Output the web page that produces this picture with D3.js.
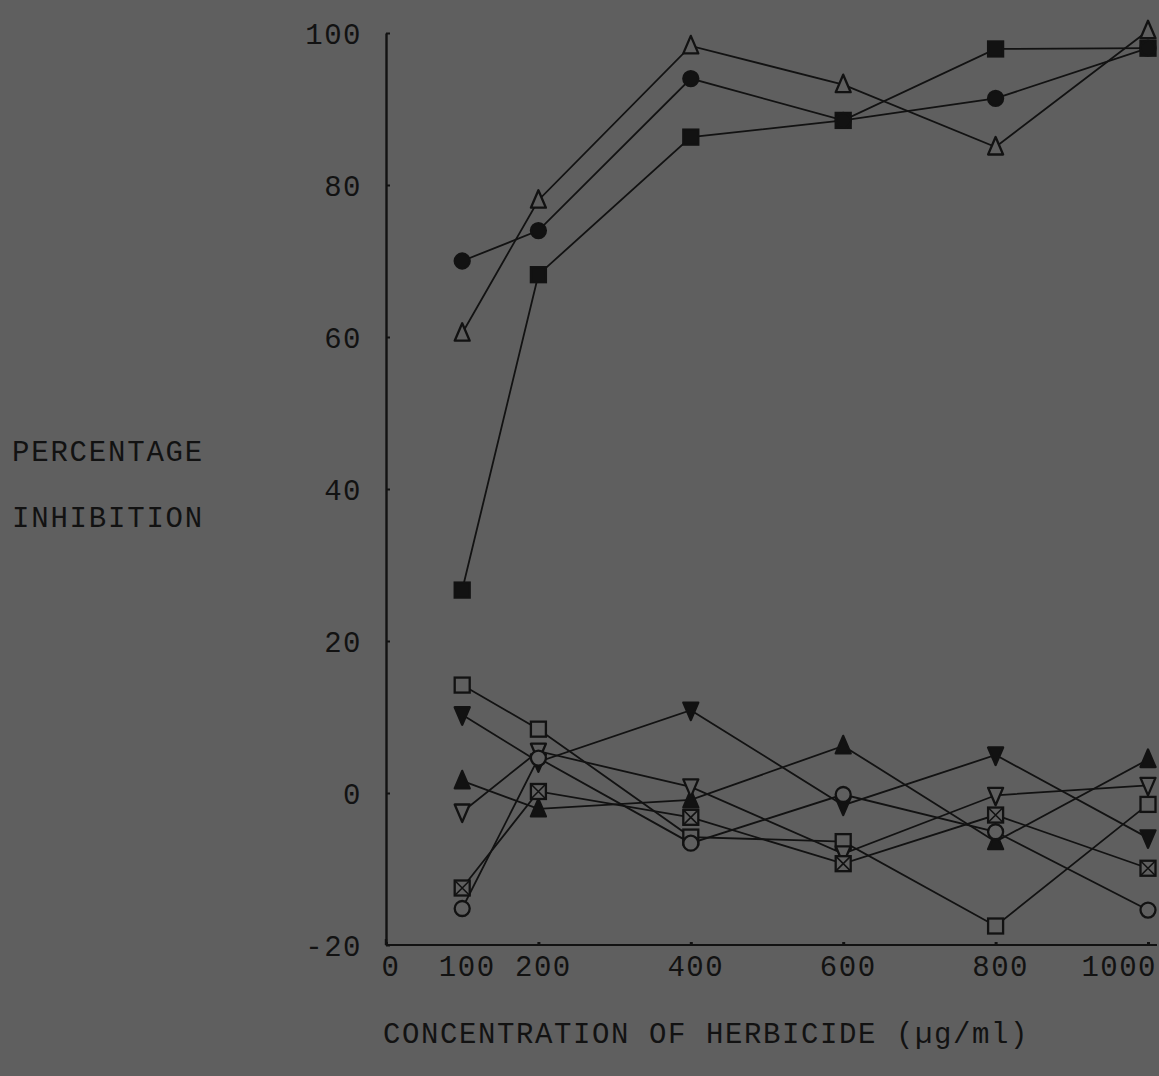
<!DOCTYPE html>
<html>
<head>
<meta charset="utf-8">
<script src="https://cdn.jsdelivr.net/npm/d3@7"></script>
<style>
  html, body { margin: 0; padding: 0; background: #5f5f5f; }
  svg { display: block; }
  text { font-family: "Liberation Mono", "DejaVu Sans Mono", monospace; fill: #121212; }
</style>
</head>
<body>
<script>
// ---- data ----
const concentrations = [100, 200, 400, 600, 800, 1000];

// upper group
const filledCircle   = [70, 74, 94, 88.5, 91.4, 98];
const openTriangle   = [60.5, 78, 98.3, 93.2, 85, 100.3];
const filledSquare   = [26.7, 68.2, 86.3, 88.5, 97.9, 98];

// lower group
const openSquare        = [14.2, 8.4, -5.8, -6.4, -17.5, -1.5];
const filledInvTriangle = [10.3, 4.1, 10.9, -1.6, 5.0, -5.9];
const filledTriangle    = [1.6, -2.1, -0.9, 6.2, -6.4, 4.4];
const openInvTriangle   = [-2.5, 5.5, 0.8, -8.0, -0.3, 1.0];
const crossedSquare     = [-12.5, 0.2, -3.2, -9.3, -2.9, -9.9];
const openCircle        = [-15.2, 4.6, -6.6, -0.2, -5.1, -15.4];

const yTicks = [-20, 0, 20, 40, 60, 80, 100];
const xTickValues = [0, 200, 400, 600, 800, 1000];
const xLabels = [0, 100, 200, 400, 600, 800, 1000];

const seriesList = [
  { name: "openSquare", values: openSquare, shape: "square", fill: "open" },
  { name: "filledInvTriangle", values: filledInvTriangle, shape: "invtri", fill: "filled" },
  { name: "filledTriangle", values: filledTriangle, shape: "tri", fill: "filled" },
  { name: "openInvTriangle", values: openInvTriangle, shape: "invtri", fill: "open" },
  { name: "crossedSquare", values: crossedSquare, shape: "xsquare", fill: "open" },
  { name: "openCircle", values: openCircle, shape: "circle", fill: "open" },
  { name: "filledSquare", values: filledSquare, shape: "square", fill: "filled" },
  { name: "filledCircle", values: filledCircle, shape: "circle", fill: "filled" },
  { name: "openTriangle", values: openTriangle, shape: "tri", fill: "open" }
];

// ---- layout ----
const W = 1159, H = 1076;
const BG = "#5f5f5f", INK = "#121212";

const svg = d3.select("body").append("svg").attr("width", W).attr("height", H);
svg.append("rect").attr("width", W).attr("height", H).attr("fill", BG);

const x = d3.scaleLinear().domain([0, 1000]).range([386, 1148]);
const y = d3.scaleLinear().domain([-20, 100]).range([945, 33]);

// y axis
const yAxis = svg.append("g").attr("transform", `translate(${x(0)},0)`)
  .call(d3.axisLeft(y).tickValues(yTicks).tickSizeInner(-4).tickSizeOuter(0).tickPadding(24)
        .tickFormat(d => d < 0 ? "-" + Math.abs(d) : String(d)));
yAxis.select(".domain").attr("stroke", INK).attr("stroke-width", 2.4);
yAxis.selectAll(".tick line").attr("stroke", INK).attr("stroke-width", 2);
yAxis.selectAll(".tick text").style("font-size", "29px").style("letter-spacing", "1.5px")
  .attr("fill", INK).attr("dy", "0.36em");

// x axis line
svg.append("line").attr("x1", x(0)).attr("x2", 1157).attr("y1", y(-20)).attr("y2", y(-20))
  .attr("stroke", INK).attr("stroke-width", 2.2);
svg.append("line").attr("x1", x(0)).attr("x2", x(0)).attr("y1", y(-20) - 6).attr("y2", y(-20))
  .attr("stroke", INK).attr("stroke-width", 2.4);

const xAxis = svg.append("g").attr("transform", `translate(0,${y(-20)})`)
  .call(d3.axisBottom(x).tickValues(xTickValues).tickSizeInner(-3).tickSizeOuter(0).tickPadding(13).tickFormat(() => ""));
xAxis.select(".domain").remove();
xAxis.selectAll(".tick line").attr("stroke", INK).attr("stroke-width", 3);

svg.append("g").selectAll("text").data(xLabels).join("text")
  .attr("x", d => d === 1000 ? x(d) + 9 : x(d) + 5)
  .attr("y", y(-20) + 31)
  .attr("text-anchor", d => d === 1000 ? "end" : "middle")
  .style("font-size", "29px").style("letter-spacing", "1.5px")
  .text(d => d);

// axis titles
svg.append("text").attr("x", 12).attr("y", 461).style("font-size", "29px").style("letter-spacing", "1.8px").text("PERCENTAGE");
svg.append("text").attr("x", 12).attr("y", 527).style("font-size", "29px").style("letter-spacing", "1.8px").text("INHIBITION");
svg.append("text").attr("x", 383).attr("y", 1043).style("font-size", "29px").style("letter-spacing", "1.6px")
  .text("CONCENTRATION OF HERBICIDE (µg/ml)");

// ---- series ----
const line = d3.line().x(d => x(d[0])).y(d => y(d[1]));
const linesG = svg.append("g");
const marksG = svg.append("g");

seriesList.forEach(s => {
  const pts = concentrations.map((c, i) => [c, s.values[i]]);
  linesG.append("path").datum(pts).attr("d", line)
    .attr("fill", "none").attr("stroke", INK).attr("stroke-width", 1.8);
});

function drawMarker(g, s, px, py) {
  const fill = s.fill === "filled" ? INK : BG;
  const sw = 2.3;
  if (s.shape === "circle") {
    g.append("circle").attr("cx", px).attr("cy", py).attr("r", 7.5)
      .attr("fill", fill).attr("stroke", INK).attr("stroke-width", sw);
  } else if (s.shape === "square" || s.shape === "xsquare") {
    const h = 7.5;
    g.append("rect").attr("x", px - h).attr("y", py - h).attr("width", 2 * h).attr("height", 2 * h)
      .attr("fill", fill).attr("stroke", INK).attr("stroke-width", sw);
    if (s.shape === "xsquare") {
      g.append("path").attr("d", `M${px - h},${py - h}L${px + h},${py + h}M${px + h},${py - h}L${px - h},${py + h}`)
        .attr("stroke", INK).attr("stroke-width", 1.6);
    }
  } else if (s.shape === "tri") {
    g.append("path").attr("d", `M${px},${py - 10}L${px + 7.5},${py + 7.5}L${px - 7.5},${py + 7.5}Z`)
      .attr("fill", fill).attr("stroke", INK).attr("stroke-width", sw).attr("stroke-linejoin", "round");
  } else if (s.shape === "invtri") {
    g.append("path").attr("d", `M${px - 7.5},${py - 7.5}L${px + 7.5},${py - 7.5}L${px},${py + 10}Z`)
      .attr("fill", fill).attr("stroke", INK).attr("stroke-width", sw).attr("stroke-linejoin", "round");
  }
}

seriesList.forEach(s => {
  const g = marksG.append("g");
  concentrations.forEach((c, i) => drawMarker(g, s, x(c), y(s.values[i])));
});
</script>
</body>
</html>
